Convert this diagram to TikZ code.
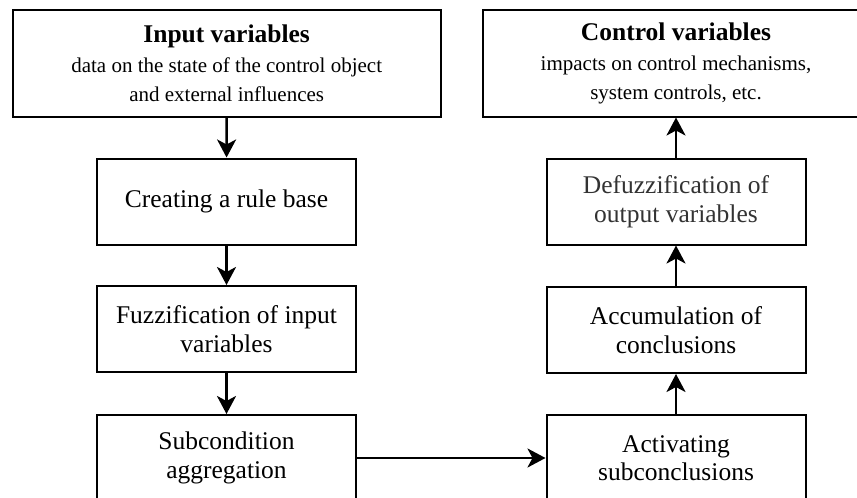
\documentclass[tikz,border=0pt]{standalone}
\usepackage{fontspec}
\setmainfont{Liberation Serif}
\usetikzlibrary{arrows.meta}
\tikzset{
  box/.style={draw=black, line width=2pt, fill=white, align=center, inner sep=0pt,
    font=\fontsize{25.5}{28.5}\selectfont},
  colbox/.style={box, minimum width=259pt, minimum height=86pt},
  flow/.style={line width=2.6pt, -{Stealth[length=18pt,width=19pt,inset=5pt]}},
}
\newcommand{\subtxt}{\fontsize{21}{27}\selectfont}
\begin{document}
\begin{tikzpicture}[x=1pt,y=-1pt]
\useasboundingbox (0,0) rectangle (857,498);
\clip (0,0) rectangle (857,498);
\fill[white] (0,0) rectangle (857,498);
\node[box, minimum width=428pt, minimum height=107pt] (input) at (226.7,63)
  {\textbf{Input variables}\\[2pt]{\subtxt data on the state of the control object}\\{\subtxt and external influences}};
\node[box, minimum width=386pt, minimum height=107pt] (control) at (676,63)
  {\textbf{Control variables}\\[2pt]{\subtxt impacts on control mechanisms,}\\{\subtxt system controls, etc.}};
\node[colbox] (rule) at (226.5,201.5) {Creating a rule base};
\node[colbox] (fuzz) at (226.5,329) {Fuzzification of input\\variables};
\node[colbox] (sub) at (226.5,458) {Subcondition\\aggregation};
\node[colbox, text=black!80] (defuzz) at (676,201.5) {Defuzzification of\\output variables};
\node[colbox] (accum) at (676,330) {Accumulation of\\conclusions};
\node[colbox] (act) at (676,458) {Activating\\subconclusions};
\draw[flow] (input) -- (rule);
\draw[flow] (rule) -- (fuzz);
\draw[flow] (fuzz) -- (sub);
\draw[flow] (sub) -- (act);
\draw[flow] (act) -- (accum);
\draw[flow] (accum) -- (defuzz);
\draw[flow] (defuzz) -- (control);
\end{tikzpicture}
\end{document}
